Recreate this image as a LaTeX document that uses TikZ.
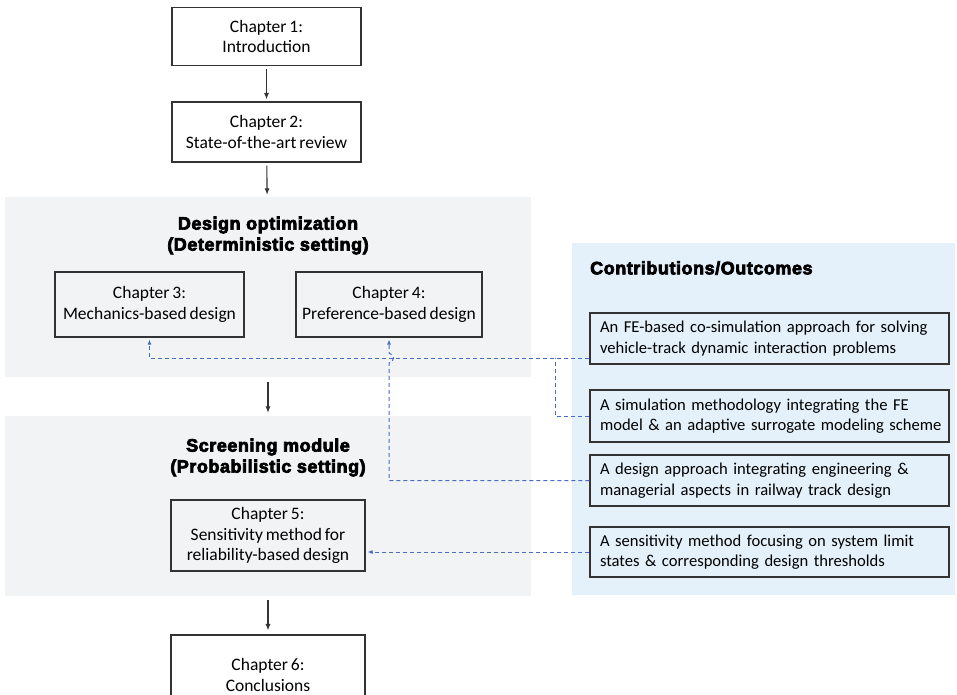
\documentclass[tikz,border=0pt]{standalone}
\usepackage{fontspec}
\setmainfont{Carlito}[WordSpace=0.75]
\newfontfamily\titlefont{Liberation Sans}[BoldFeatures={FakeBold=4,LetterSpace=3}]
\usetikzlibrary{arrows.meta}
\definecolor{panelgray}{HTML}{F2F3F5}
\definecolor{panelblue}{HTML}{E4F1FA}
\definecolor{linkblue}{HTML}{4A6CC0}
\definecolor{edge}{HTML}{333333}
% one unbreakable line of a contribution box
\newcommand\oneline[1]{\mbox{#1}}
\begin{document}
\begin{tikzpicture}[x=1pt,y=-1pt,
  chap/.style={font=\fontsize{17.5}{20.5}\selectfont, draw=edge, line width=1.1pt, align=center, inner sep=0pt},
  contrib/.style={font=\fontsize{16.6}{20.5}\selectfont, draw=edge, line width=1.1pt, align=left,
    text width=339pt, inner xsep=10pt, inner ysep=0pt, minimum width=359pt},
  panel/.style={draw=none, inner sep=0pt},
  heading/.style={font=\titlefont\bfseries\fontsize{18}{21}\selectfont, align=center, inner sep=0pt},
  flow/.style={draw=edge, line width=1.1pt, -{Latex[length=6.5pt,width=5pt]}},
  link/.style={draw=linkblue, line width=1pt, dash pattern=on 4pt off 3pt},
  linktip/.style={-{Latex[length=5pt,width=4pt]}}
]
\clip (0,0) rectangle (957,694);
\fill[white] (0,0) rectangle (957,694);

% background panels
\node[panel, fill=panelgray, minimum width=526pt, minimum height=180pt] (p1) at (268,287) {};
\node[panel, fill=panelgray, minimum width=526pt, minimum height=180pt] (p2) at (268,506) {};
\node[panel, fill=panelblue, minimum width=383pt, minimum height=352pt] (pc) at (763.5,419) {};

% panel headings
\node[heading] (h1) at (268,235.5) {Design optimization\\(Deterministic setting)};
\node[heading] (h2) at (268,457.5) {Screening module\\(Probabilistic setting)};
\node[heading, anchor=west] (hc) at (590,268) {Contributions/Outcomes};

% chapter boxes
\node[chap, fill=white, minimum width=189pt, minimum height=58pt] (ch1) at (266.5,36.5) {Chapter 1:\\Introduction};
\node[chap, fill=white, minimum width=189pt, minimum height=60pt] (ch2) at (266.5,132) {Chapter 2:\\State-of-the-art review};
\node[chap, minimum width=189pt, minimum height=65pt] (ch3) at (149.5,304.5) {Chapter 3:\\Mechanics-based design};
\node[chap, minimum width=186pt, minimum height=65pt] (ch4) at (389,304.5) {Chapter 4:\\Preference-based design};
\node[chap, minimum width=194pt, minimum height=71pt] (ch5) at (268,535.5) {Chapter 5:\\Sensitivity method for\\reliability-based design};
\node[chap, fill=white, minimum width=194pt, minimum height=80pt] (ch6) at (268,675) {Chapter 6:\\Conclusions};

% contribution boxes
\node[contrib, minimum height=51pt] (c1) at (769.5,338.5) {\oneline{An FE-based co-simulation approach for solving}\\\oneline{vehicle-track dynamic interaction problems}};
\node[contrib, minimum height=52pt] (c2) at (769.5,416) {\oneline{A simulation methodology integrating the FE}\\\oneline{model \& an adaptive surrogate modeling scheme}};
\node[contrib, minimum height=51pt] (c3) at (769.5,480.5) {\oneline{A design approach integrating engineering \&}\\\oneline{managerial aspects in railway track design}};
\node[contrib, minimum height=50pt] (c4) at (769.5,552) {\oneline{A sensitivity method focusing on system limit}\\\oneline{states \& corresponding design thresholds}};

% main flow
\draw[flow, shorten <=3pt, shorten >=2pt] (ch1) -- (ch2);
\draw[flow, shorten <=3pt, shorten >=2pt] (ch2) -- (p1);
\draw[flow, shorten <=5pt, shorten >=3pt] (p1) -- (p2);
\draw[flow, shorten <=4pt, shorten >=4pt] (p2) -- (ch6);

% links from contributions to chapters
\coordinate (j1) at (555,358);
\coordinate (hopa) at (389,363);
\coordinate (hopb) at (389,353);
\draw[link, linktip, shorten >=2pt] (c1.west |- j1) -| (ch3.south);
\draw[link] (c2.west) -| (j1);
\draw[link, linktip, shorten >=2pt] (c3.west) -| (hopa)
  .. controls (395,361) and (395,355) .. (hopb) -- (ch4.south);
\draw[link, linktip, shorten >=2pt] (c4.west) -- (ch5.east |- c4.west);
\end{tikzpicture}
\end{document}
